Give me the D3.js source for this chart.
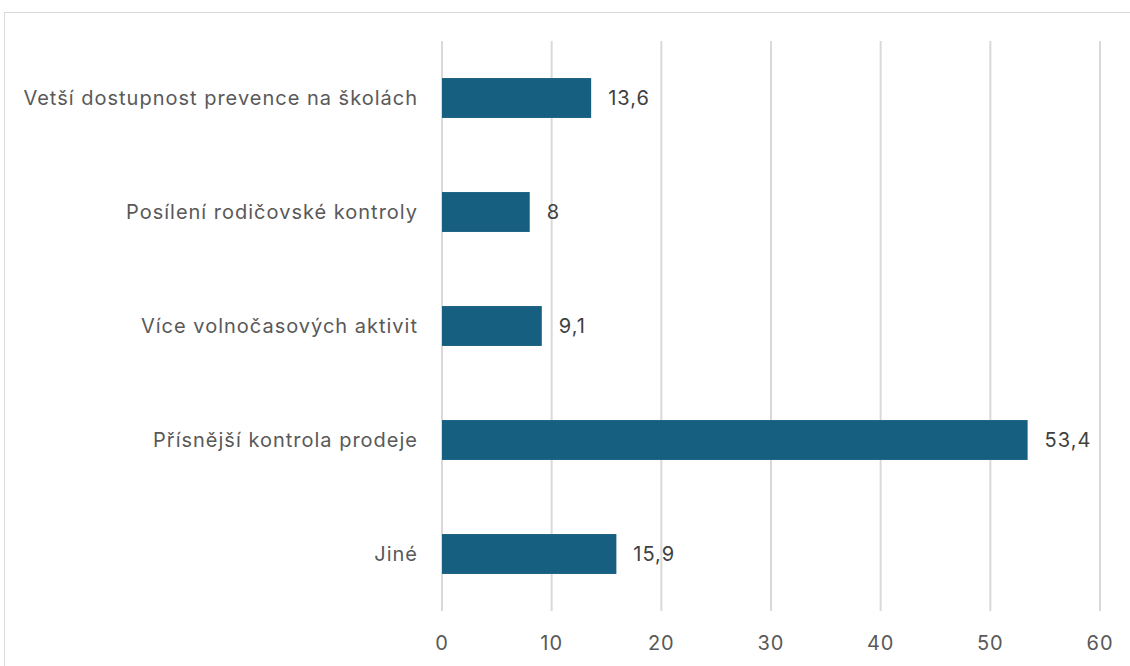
<!DOCTYPE html>
<html><head><meta charset="utf-8">
<script src="https://cdn.jsdelivr.net/npm/d3@7/dist/d3.min.js"></script>
<style>body{margin:0;background:#fff}svg{display:block}text{font-family:Inter,"Open Sans",sans-serif}</style>
</head><body><svg id="c" width="1130" height="666"></svg>
<script>
const categories = ["Vetší dostupnost prevence na školách","Posílení rodičovské kontroly","Více volnočasových aktivit","Přísnější kontrola prodeje","Jiné"];
const values = [13.6, 8, 9.1, 53.4, 15.9];
const valueLabels = ["13,6","8","9,1","53,4","15,9"];
const ticks = [0,10,20,30,40,50,60];

const svg = d3.select("#c");
svg.append("rect").attr("x",4.5).attr("y",12.5).attr("width",1140).attr("height",680)
  .attr("fill","none").attr("stroke","#d9d9d9");
const x = d3.scaleLinear().domain([0,60]).range([442,1100]);
const y = d3.scaleBand().domain(categories).range([41,611]).paddingInner(0.65).paddingOuter(0.325);

svg.append("g").selectAll("line").data(ticks).join("line")
  .attr("x1",d=>x(d)).attr("x2",d=>x(d)).attr("y1",41).attr("y2",611)
  .attr("stroke","#d9d9d9").attr("stroke-width",2);

svg.append("g").selectAll("text").data(ticks).join("text")
  .attr("x",d=>x(d)).attr("y",643).attr("dy","0.35em").attr("text-anchor","middle")
  .attr("fill","#595959").attr("font-size",20).attr("letter-spacing",1).text(d=>d);

svg.append("g").selectAll("rect").data(values).join("rect")
  .attr("x",x(0)).attr("y",(d,i)=>y(categories[i])).attr("width",d=>x(d)-x(0)).attr("height",y.bandwidth())
  .attr("fill","#175f80");

svg.append("g").selectAll("text").data(values).join("text")
  .attr("x",d=>x(d)+17).attr("y",(d,i)=>y(categories[i])+y.bandwidth()/2).attr("dy","0.35em")
  .attr("fill","#404040").attr("font-size",20).attr("letter-spacing",1).text((d,i)=>valueLabels[i]);

svg.append("g").selectAll("text").data(categories).join("text")
  .attr("x",418).attr("y",d=>y(d)+y.bandwidth()/2).attr("dy","0.35em").attr("text-anchor","end")
  .attr("fill","#595959").attr("font-size",20).attr("letter-spacing",1).text(d=>d);
</script></body></html>
